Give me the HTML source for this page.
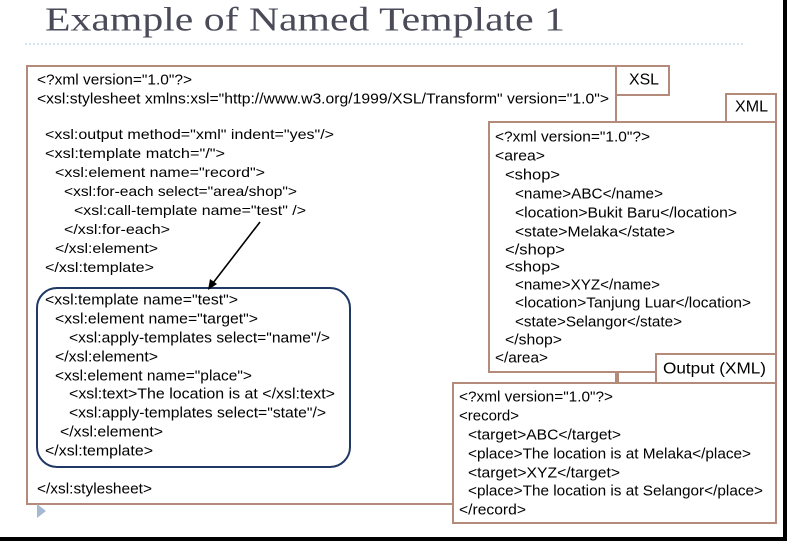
<!DOCTYPE html>
<html><head><meta charset="utf-8"><style>
html,body{margin:0;padding:0;background:#fff;width:787px;height:541px;overflow:hidden}
svg{display:block}
text{font-family:"Liberation Sans",Arial,sans-serif;font-size:15px;fill:#000;dominant-baseline:central}
text.a{font-size:14px}
</style></head><body>
<svg width="787" height="541" viewBox="0 0 787 541" xmlns="http://www.w3.org/2000/svg">
<text x="45" y="20" style="font-family:'Liberation Serif',serif;font-size:34px;fill:#4a4a58" textLength="520" lengthAdjust="spacingAndGlyphs">Example of Named Template 1</text>
<line x1="25" y1="44" x2="745" y2="44" stroke="#a9c4dc" stroke-width="1" stroke-dasharray="2,2"/>
<g fill="#fff" stroke="#b48a7a" stroke-width="2">
<rect x="27" y="66" width="589" height="438"/>
<rect x="616" y="66" width="53" height="29"/>
<rect x="489" y="122" width="287" height="250"/>
<rect x="726" y="94" width="50" height="28"/>
<line x1="618" y1="372" x2="618" y2="383"/>
<rect x="453" y="383" width="323" height="140"/>
<rect x="656" y="354" width="120" height="29"/>
</g>
<rect x="37" y="288" width="313" height="179" rx="20" ry="20" fill="#fff" stroke="#1f3864" stroke-width="2"/>
<line x1="260" y1="222" x2="213" y2="283" stroke="#000" stroke-width="1.6"/>
<polygon points="208,290 210,279 217,284" fill="#000"/>
<polygon points="37,504 46,511 37,518" fill="#a3bad2"/>
<rect x="783" y="0" width="4" height="541" fill="#000"/>
<rect x="0" y="537" width="787" height="4" fill="#000"/>
<text x="629" y="80" style="font-size:16px" textLength="30" lengthAdjust="spacingAndGlyphs">XSL</text>
<text x="735" y="107" style="font-size:16px" textLength="33" lengthAdjust="spacingAndGlyphs">XML</text>
<text x="663" y="369" style="font-size:16px" textLength="103" lengthAdjust="spacingAndGlyphs">Output (XML)</text>
<text x="37" y="80" textLength="155" lengthAdjust="spacingAndGlyphs">&lt;?xml version="1.0"?&gt;</text>
<text x="37" y="99" textLength="572" lengthAdjust="spacingAndGlyphs">&lt;xsl:stylesheet xmlns:xsl="http://www.w3.org/1999/XSL/Transform" version="1.0"&gt;</text>
<text class="a" x="45" y="134" textLength="289" lengthAdjust="spacingAndGlyphs">&lt;xsl:output method="xml" indent="yes"/&gt;</text>
<text class="a" x="45" y="153" textLength="180" lengthAdjust="spacingAndGlyphs">&lt;xsl:template match="/"&gt;</text>
<text class="a" x="55" y="172" textLength="210" lengthAdjust="spacingAndGlyphs">&lt;xsl:element name="record"&gt;</text>
<text class="a" x="64" y="191" textLength="233" lengthAdjust="spacingAndGlyphs">&lt;xsl:for-each select="area/shop"&gt;</text>
<text class="a" x="74" y="210" textLength="232" lengthAdjust="spacingAndGlyphs">&lt;xsl:call-template name="test" /&gt;</text>
<text class="a" x="64" y="229" textLength="106" lengthAdjust="spacingAndGlyphs">&lt;/xsl:for-each&gt;</text>
<text class="a" x="55" y="248" textLength="103" lengthAdjust="spacingAndGlyphs">&lt;/xsl:element&gt;</text>
<text class="a" x="45" y="267" textLength="109" lengthAdjust="spacingAndGlyphs">&lt;/xsl:template&gt;</text>
<text x="45" y="300" textLength="193" lengthAdjust="spacingAndGlyphs">&lt;xsl:template name="test"&gt;</text>
<text x="55" y="319" textLength="203" lengthAdjust="spacingAndGlyphs">&lt;xsl:element name="target"&gt;</text>
<text x="69" y="338" textLength="261" lengthAdjust="spacingAndGlyphs">&lt;xsl:apply-templates select="name"/&gt;</text>
<text x="55" y="357" textLength="103" lengthAdjust="spacingAndGlyphs">&lt;/xsl:element&gt;</text>
<text x="55" y="376" textLength="197" lengthAdjust="spacingAndGlyphs">&lt;xsl:element name="place"&gt;</text>
<text x="69" y="394" textLength="266" lengthAdjust="spacingAndGlyphs">&lt;xsl:text&gt;The location is at &lt;/xsl:text&gt;</text>
<text x="69" y="413" textLength="257" lengthAdjust="spacingAndGlyphs">&lt;xsl:apply-templates select="state"/&gt;</text>
<text x="60" y="432" textLength="103" lengthAdjust="spacingAndGlyphs">&lt;/xsl:element&gt;</text>
<text x="45" y="451" textLength="108" lengthAdjust="spacingAndGlyphs">&lt;/xsl:template&gt;</text>
<text x="37" y="489" textLength="115" lengthAdjust="spacingAndGlyphs">&lt;/xsl:stylesheet&gt;</text>
<text x="495" y="137" textLength="155" lengthAdjust="spacingAndGlyphs">&lt;?xml version="1.0"?&gt;</text>
<text x="495" y="156" textLength="50" lengthAdjust="spacingAndGlyphs">&lt;area&gt;</text>
<text x="505" y="175" textLength="55" lengthAdjust="spacingAndGlyphs">&lt;shop&gt;</text>
<text x="515" y="194" textLength="148" lengthAdjust="spacingAndGlyphs">&lt;name&gt;ABC&lt;/name&gt;</text>
<text x="515" y="213" textLength="222" lengthAdjust="spacingAndGlyphs">&lt;location&gt;Bukit Baru&lt;/location&gt;</text>
<text x="515" y="232" textLength="160" lengthAdjust="spacingAndGlyphs">&lt;state&gt;Melaka&lt;/state&gt;</text>
<text x="505" y="250" textLength="60" lengthAdjust="spacingAndGlyphs">&lt;/shop&gt;</text>
<text x="505" y="267" textLength="55" lengthAdjust="spacingAndGlyphs">&lt;shop&gt;</text>
<text x="515" y="285" textLength="145" lengthAdjust="spacingAndGlyphs">&lt;name&gt;XYZ&lt;/name&gt;</text>
<text x="515" y="303" textLength="236" lengthAdjust="spacingAndGlyphs">&lt;location&gt;Tanjung Luar&lt;/location&gt;</text>
<text x="515" y="322" textLength="167" lengthAdjust="spacingAndGlyphs">&lt;state&gt;Selangor&lt;/state&gt;</text>
<text x="505" y="340" textLength="57" lengthAdjust="spacingAndGlyphs">&lt;/shop&gt;</text>
<text x="495" y="358" textLength="53" lengthAdjust="spacingAndGlyphs">&lt;/area&gt;</text>
<text x="459" y="397" textLength="154" lengthAdjust="spacingAndGlyphs">&lt;?xml version="1.0"?&gt;</text>
<text x="459" y="416" textLength="60" lengthAdjust="spacingAndGlyphs">&lt;record&gt;</text>
<text x="468" y="435" textLength="153" lengthAdjust="spacingAndGlyphs">&lt;target&gt;ABC&lt;/target&gt;</text>
<text x="468" y="454" textLength="283" lengthAdjust="spacingAndGlyphs">&lt;place&gt;The location is at Melaka&lt;/place&gt;</text>
<text x="468" y="473" textLength="152" lengthAdjust="spacingAndGlyphs">&lt;target&gt;XYZ&lt;/target&gt;</text>
<text x="468" y="491" textLength="295" lengthAdjust="spacingAndGlyphs">&lt;place&gt;The location is at Selangor&lt;/place&gt;</text>
<text x="459" y="510" textLength="67" lengthAdjust="spacingAndGlyphs">&lt;/record&gt;</text>
</svg>
</body></html>
